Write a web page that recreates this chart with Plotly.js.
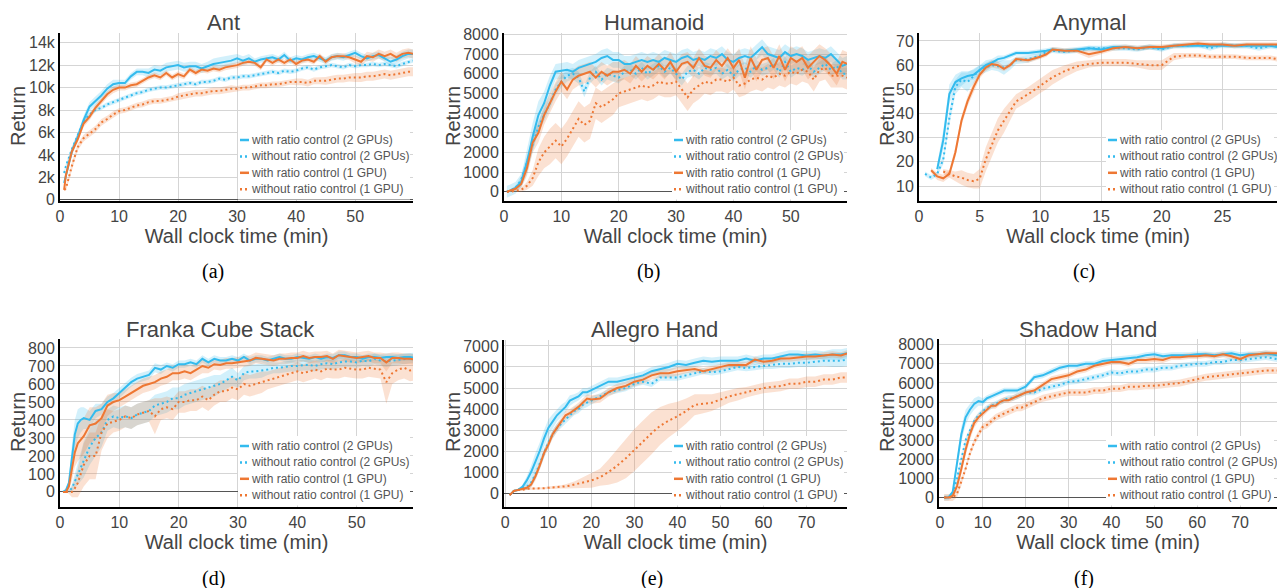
<!DOCTYPE html>
<html>
<head>
<meta charset="utf-8">
<script src="https://cdn.plot.ly/plotly-3.0.1.min.js"></script>
<style>html,body{margin:0;padding:0;background:#fff}#chart{width:1277px;height:588px}</style>
</head>
<body>
<div id="chart"></div>
<script>
// ---------------- DATA ----------------
const seriesNames = ['with ratio control (2 GPUs)', 'without ratio control (2 GPUs)', 'with ratio control (1 GPU)', 'without ratio control (1 GPU)'];
const panelTitles = ['Ant', 'Humanoid', 'Anymal', 'Franka Cube Stack', 'Allegro Hand', 'Shadow Hand'];
const panelCaptions = ['(a)', '(b)', '(c)', '(d)', '(e)', '(f)'];
const xAxisLabel = 'Wall clock time (min)';
const yAxisLabel = 'Return';
const antTickVals = [0, 2000, 4000, 6000, 8000, 10000, 12000, 14000];
const antTickText = ['0', '2k', '4k', '6k', '8k', '10k', '12k', '14k'];

// (a) Ant
const antTime = [0.7,1,2,3,4,5,6,7,8,9,10,11,12,13,14,15,16,17,18,19,20,21,22,23,24,25,26,27,28,29,30,31,32,33,34,35,36,37,38,39,40,41,42,43,44,45,46,47,48,49,50,51,52,53,54,55,56,57,58,59,59.8];
const antWithRatio2 = [1500,2200,4300,5600,7100,8300,8800,9300,9900,10300,
  10400,10400,11000,11400,11400,11300,11600,11500,11800,11900,
  12000,11800,11900,11900,11700,11900,12100,12200,12300,12400,
  12600,12400,12600,12300,12500,12600,12700,12500,12900,12400,
  12600,12500,12700,12800,12600,12400,12700,12800,12700,12900,
  13100,12800,12600,12800,12900,12600,12300,12500,12800,13000,13000];
const antWithoutRatio2 = [2400,3000,4500,5800,7000,7600,8000,8200,8500,8700,
  8900,9100,9300,9500,9600,9800,9900,10000,10000,10100,
  10200,10300,10400,10300,10500,10500,10600,10800,10700,10900,
  10900,11000,11000,11100,11200,11300,11400,11300,11500,11400,
  11500,11700,11800,11600,11800,11900,12000,11900,11800,12000,
  11900,12000,12000,12100,12000,12100,12000,11900,12100,12300,12400];
const antWithRatio1 = [900,2200,4300,5400,6800,7400,8200,8800,9400,9800,
  10000,10000,10200,10300,10600,10900,11100,10900,11300,10900,
  11200,11000,11600,11300,11600,11500,11700,11600,11800,11900,
  12000,12200,12300,12200,11800,12500,12200,12500,12200,12500,
  12100,12400,12500,12300,12800,12300,12700,12800,12800,12700,
  12500,12300,12800,12700,13000,12800,13000,12700,13000,13100,13000];
const antWithoutRatio1 = [900,1000,3000,4700,5500,5900,6300,6900,7200,7600,
  7900,8000,8200,8400,8500,8700,8800,8800,8900,9000,
  9200,9300,9400,9500,9500,9600,9700,9700,9800,9900,
  9900,10000,10000,10100,10200,10200,10300,10300,10400,10500,
  10500,10500,10400,10600,10600,10600,10700,10800,10800,10900,
  10900,10900,11000,11000,11100,11200,11100,11200,11300,11400,11400];
const antWithRatio2Sd = [200,300,400,400,400,400,400,400,400,400,
  300,300,300,300,300,400,400,400,400,400,
  400,400,400,400,400,400,500,500,500,500,
  400,400,400,300,300,300,300,300,300,300,
  300,300,300,300,300,300,300,300,300,300,
  300,300,300,300,300,300,400,400,400,400,400];
const antWithoutRatio2Sd = 200;
const antWithRatio1Sd = [200,300,300,300,300,300,300,300,300,300,
  250,250,250,250,250,250,250,250,250,250,
  250,250,250,250,250,250,250,250,250,250,
  250,250,250,250,250,250,250,250,250,250,
  250,250,250,250,250,250,250,250,250,250,
  350,350,400,400,400,400,400,400,400,400,400];
const antWithoutRatio1Sd = [100,200,300,300,300,300,300,300,300,300,
  250,250,250,250,250,250,250,250,250,250,
  300,300,300,300,300,300,300,300,300,300,
  250,250,250,250,250,250,250,250,250,250,
  300,300,300,300,300,350,350,350,350,350,
  400,400,400,400,400,400,400,400,400,400,400];

// (b) Humanoid
const humTime = [0.5,1,2,3,4,5,6,7,8,9,10,11,12,13,14,15,16,17,18,19,20,21,22,23,24,25,26,27,28,29,30,31,32,33,34,35,36,37,38,39,40,41,42,43,44,45,46,47,48,49,50,51,52,53,54,55,56,57,58,59,59.8];
const humWithRatio2 = [0,50,200,500,1500,2800,3900,4500,5400,6100,
  6150,6200,6100,6300,6400,6500,6600,6800,6900,6700,
  6700,6500,6500,6600,6700,6600,6700,6600,6800,6700,
  6600,6800,6900,6700,6800,6700,6900,6800,7000,6700,
  6600,6800,6900,6800,7100,7350,7000,6900,6800,7100,
  6900,7000,6900,6700,6800,6900,6800,7000,6700,6400,6500];
const humWithoutRatio2 = [0,50,200,600,1500,2400,3300,3900,4500,5200,
  5600,5900,6000,5800,5100,5800,6100,5700,6000,5900,
  5800,6100,6200,6000,6300,6000,6200,6400,6100,6300,
  6000,5700,6100,6200,6000,6300,6200,6300,6000,6200,
  5900,6200,6300,6100,6400,6200,6300,6500,6100,6600,
  6100,6300,6200,6400,6100,6300,6500,6200,6400,6000,6000];
const humWithRatio1 = [0,50,150,400,1200,2500,3000,3900,4500,5100,
  5600,5200,5700,5900,6000,6100,5800,6100,5900,6100,
  6100,6200,6000,6400,6100,6400,6200,6500,6200,6600,
  6100,6500,6600,6300,6800,6400,6300,6700,6400,6800,
  6300,6700,5800,6800,6200,6700,6800,6300,6900,6200,
  6800,6600,6800,6300,6600,6900,6700,6400,6000,6600,6500];
const humWithoutRatio1 = [0,0,50,100,300,700,1500,2000,2300,2600,
  2300,2700,3200,3700,3400,3600,4500,4300,4500,4700,
  5000,5100,5200,5300,5400,5300,5400,5600,5500,5500,
  5600,5200,4800,5200,5400,5600,5500,5700,5700,5600,
  5800,5400,5500,5700,5800,5700,5900,5800,6000,5900,
  6100,6000,6200,6100,5700,6200,6300,5900,5900,5900,5800];
const humWithRatio2Sd = [0,50,100,300,600,700,700,600,500,400,
  400,400,400,400,400,400,400,400,400,400,
  400,400,400,400,400,400,400,400,400,400,
  400,400,400,400,400,400,400,400,400,400,
  400,400,400,400,400,400,400,400,400,400,
  400,400,400,400,400,400,400,400,400,400,400];
const humWithoutRatio2Sd = 300;
const humWithRatio1Sd = [0,50,100,200,400,500,500,500,500,500,
  500,500,500,500,500,500,500,500,500,500,
  500,500,500,500,500,500,500,500,500,500,
  500,500,500,500,500,500,500,500,500,500,
  600,600,600,600,600,600,600,600,600,600,
  600,600,600,600,600,600,600,600,600,600,600];
const humWithoutRatio1Sd = [0,0,50,100,200,400,700,800,900,900,
  900,900,900,900,900,900,800,800,800,800,
  700,700,700,700,700,700,700,700,700,700,
  700,700,700,700,700,600,600,600,600,600,
  600,600,600,600,600,600,600,600,600,600,
  600,600,600,600,600,600,600,600,600,600,600];

// (c) Anymal
const anyTime = [0.5,1,1.5,2,2.5,3,3.5,4,4.5,5,5.5,6,6.5,7,7.5,8,9,10,10.5,11,12,13,14,15,16,17,18,19,20,21,22,23,24,25,26,27,28,29,29.5];
const anyWithRatio2 = [null,null,17,29,48,53,54.5,55.5,56,58,
  60,61,62.5,63,64,65,65,65.5,66,66.5,
  66,66.5,67,66.5,67.5,67.5,67,67.5,67,68,
  68,68,68,68,68,68,68,68,67.5];
const anyWithoutRatio2 = [15,13.5,15,21,38,51,54,53,55.5,58,
  59,60,59.5,59,60,62,62.5,64,65.5,66,
  65.5,66,67,67,67,67,66.5,67.5,66.5,68,
  68,68.5,67,68.5,68,68,67,68,68];
const anyWithRatio1 = [null,16.5,14,13.2,15,24,37,45,51,56,
  59,60.5,60,58.5,60,62.5,62,63.5,64.5,66.5,
  66,66,64.5,65.5,67,67.5,67,67.5,67.5,68,
  68.5,69,68.5,68.5,68,68.5,68.5,68.5,68.5];
const anyWithoutRatio1 = [null,null,null,16,15,14,13.5,12.5,12,13,
  21,27,33,37,41,45,48,51.5,53,55,
  57.5,59.5,60.5,61,61,61,60.5,60,60,63.5,
  64,64,63.5,63.5,63.5,63,63,63,62.5];
const anyWithRatio2Sd = [0,0,2,4,4,3,3,2,2,2,
  2,1.5,1.5,1,1,1,1,1,1,1,
  1,1,1,1,1,1,1,1,1,1,
  1,1,1,1,1,1,1,1,1];
const anyWithoutRatio2Sd = [1,1,1,2,3,3,3,4,3,2,
  2,2,2,3,2,1.5,1.5,1,1,1,
  1,1,1,1,1,1,1,1,1,1,
  1,1,1,1,1,1,1,1,1];
const anyWithRatio1Sd = [0,1,1.5,1.5,1.5,2,2,2,2,1.5,
  1.5,1.5,1.5,1,1,1,1,1,1,1,
  1,1,1.5,1,1,1,1,1,1,1,
  1,1,1,1,1,1,1,1,1];
const anyWithoutRatio1Sd = [0,0,0,1,1.5,2,3,3,3,4,
  5,5,5,5,4,3,3,3,3,3,
  2.5,2,1.5,1.5,1.5,1.5,1.5,2,2,1.5,
  1,1,1,1,1,1,1,1,1];

// (d) Franka Cube Stack
const frTime = [0.5,1,1.5,2,2.5,3,3.5,4,5,6,7,8,9,10,11,12,13,14,15,16,17,18,19,20,21,22,23,24,25,26,27,28,29,30,31,32,33,34,35,36,37,38,39,40,41,42,43,44,45,46,47,48,49,50,51,52,53,54,55,56,57,58,59,59.8];
const frWithRatio2 = [0,10,50,200,320,380,400,410,
  400,450,460,500,520,550,580,610,630,640,
  650,690,680,700,690,710,710,720,710,740,
  720,740,730,730,740,730,750,730,740,740,
  730,740,750,740,740,750,745,740,750,740,
  750,745,760,760,750,750,740,750,750,745,
  750,750,745,750,750,745];
const frWithoutRatio2 = [null,0,5,20,60,100,140,180,
  250,300,330,400,420,410,420,410,430,440,
  450,480,490,500,520,520,540,550,560,570,
  580,590,600,620,640,620,660,670,670,675,
  680,690,690,695,700,700,705,705,700,710,
  715,710,720,725,725,720,730,725,740,730,
  725,730,735,740,745,745];
const frWithRatio1 = [0,0,30,120,220,270,290,310,
  370,380,410,480,500,510,530,550,570,590,
  600,610,630,640,660,660,670,660,680,700,
  690,710,705,715,715,720,725,730,745,740,
  735,730,740,740,745,745,755,745,750,750,
  755,740,760,755,750,745,750,755,745,745,
  720,745,745,740,740,735];
const frWithoutRatio1 = [null,0,0,0,20,50,100,150,
  200,200,330,380,390,400,420,410,430,440,
  450,420,460,470,460,500,500,510,510,530,
  510,540,560,560,580,570,600,590,600,610,
  620,630,640,650,660,670,660,670,680,670,
  685,680,680,690,685,680,680,690,685,680,
  610,660,680,690,675,680];
const frWithRatio2Sd = [0,5,20,60,80,80,70,60,
  50,40,30,30,30,30,30,25,25,25,
  25,25,25,20,20,20,20,20,20,20,
  20,20,20,20,20,20,20,20,20,20,
  20,20,20,20,20,20,20,20,20,20,
  20,20,20,20,20,20,20,20,20,20,
  20,20,20,20,20,20];
const frWithoutRatio2Sd = [0,0,10,20,40,60,80,100,
  100,100,80,60,60,60,60,60,60,60,
  60,60,60,60,60,60,60,60,60,60,
  60,60,50,50,50,40,40,40,40,40,
  30,30,30,30,30,30,30,30,30,30,
  30,30,30,30,30,30,30,30,30,30,
  30,30,30,30,30,30];
const frWithRatio1Sd = [0,0,20,60,80,100,100,100,
  100,90,80,60,50,40,40,40,40,40,
  40,40,40,40,40,40,40,40,40,40,
  30,30,30,30,30,30,30,30,30,30,
  30,30,30,30,30,30,30,30,30,30,
  30,30,30,30,30,30,30,30,30,30,
  50,30,30,30,30,30];
const frWithoutRatio1Sd = [0,0,10,30,50,80,100,120,
  130,130,100,80,60,60,60,60,60,60,
  60,100,60,60,60,60,60,60,60,60,
  60,60,60,60,60,60,60,60,60,60,
  50,50,50,50,50,50,50,50,50,50,
  50,50,50,50,50,50,50,50,50,50,
  120,60,60,60,60,60];

// (e) Allegro Hand
const alTime = [1,2,3,4,5,6,7,8,9,10,11,12,13,14,15,16,17,18,19,20,22,24,26,28,30,32,34,36,38,40,42,44,46,48,50,52,54,56,58,60,62,64,66,68,70,72,74,76,78,79.4];
const alWithRatio2 = [-100,100,150,300,600,1000,1500,2000,2600,3100,
  3400,3700,3900,4100,4400,4500,4600,4800,4800,4900,
  5100,5300,5300,5400,5500,5600,5800,5900,6000,6150,
  6100,6200,6300,6250,6300,6300,6300,6400,6300,6400,
  6400,6500,6600,6600,6550,6600,6550,6600,6600,6650];
const alWithoutRatio2 = [-100,100,150,250,300,500,900,1400,1900,2400,
  2800,3100,3300,3500,3700,3900,4000,4200,4300,4400,
  4600,4800,4900,5000,5200,5300,5200,5500,5500,5500,
  5600,5700,5800,5750,5800,5900,6000,5950,6000,6050,
  6100,6150,6150,6200,6200,6250,6300,6300,6300,6350];
const alWithRatio1 = [-100,100,150,200,250,400,800,1300,1900,2300,
  2800,3100,3400,3700,3800,3950,4100,4300,4500,4450,
  4500,4800,5000,5100,5300,5400,5600,5700,5700,5800,
  5850,5900,5800,5900,6000,6100,6100,6100,6350,6250,
  6300,6400,6400,6450,6500,6500,6550,6600,6550,6650];
const alWithoutRatio1 = [-100,100,150,150,200,200,200,220,230,250,
  260,270,290,320,350,400,450,500,550,600,
  750,1000,1300,1650,2050,2450,2850,3200,3450,3650,
  3900,4200,4250,4300,4450,4600,4700,4800,4900,5000,
  5050,5100,5200,5200,5300,5300,5400,5400,5500,5500];
const alWithRatio2Sd = [0,50,50,100,200,300,400,400,400,400,
  350,300,300,250,250,200,200,200,200,200,
  200,200,200,200,200,200,200,200,200,200,
  200,200,200,200,200,200,200,200,200,200,
  200,200,200,200,200,200,200,250,250,250];
const alWithoutRatio2Sd = [0,50,50,100,150,200,250,250,250,200,
  200,200,200,200,200,200,200,200,200,200,
  150,150,150,150,150,150,150,150,150,150,
  150,150,150,150,150,150,150,150,150,150,
  200,200,200,200,200,250,250,300,300,300];
const alWithRatio1Sd = [0,50,50,50,100,150,200,200,200,200,
  200,200,200,200,200,200,200,200,200,200,
  200,200,200,200,200,200,200,200,200,200,
  150,150,150,150,150,150,150,150,150,150,
  150,150,150,150,150,150,150,150,150,150];
const alWithoutRatio1Sd = [0,50,50,50,50,50,50,50,50,60,
  60,70,80,100,120,150,200,250,300,350,
  400,600,800,950,1000,1000,1000,900,800,700,
  600,500,450,400,350,300,300,250,250,250,
  250,250,250,250,250,250,250,250,250,250];

// (f) Shadow Hand
const shTime = [1,2,3,4,5,6,7,8,9,10,11,12,13,14,15,16,17,18,19,20,22,24,26,28,30,32,34,36,38,40,42,44,46,48,50,52,54,56,58,60,62,64,66,68,70,72,74,76,78.6];
const shWithRatio2 = [0,0,300,1800,3300,4200,4600,4900,5050,5000,
  5200,5300,5400,5500,5600,5600,5600,5600,5700,5800,
  6300,6400,6600,6800,6900,6900,7000,7000,7150,7200,
  7250,7300,7350,7450,7500,7400,7450,7450,7450,7500,
  7500,7450,7500,7550,7450,7500,7500,7550,7450];
const shWithoutRatio2 = [0,0,200,1000,2000,3000,3500,4000,4300,4500,
  4700,4800,4900,5000,5100,5200,5200,5300,5400,5500,
  5500,5700,5800,5900,6050,6100,6200,6300,6400,6550,
  6500,6600,6600,6700,6700,6800,6800,6900,6950,7000,
  7000,7100,7100,7200,7200,7250,7300,7350,7250];
const shWithRatio1 = [0,0,100,600,1500,2500,3300,3900,4200,4400,
  4600,4800,4800,5000,5100,5100,5200,5300,5400,5500,
  5600,5900,6200,6300,6400,6600,6700,6900,7000,7100,
  7100,7000,7200,7200,7250,7200,7350,7350,7400,7400,
  7450,7400,7500,7400,7250,7450,7500,7550,7550];
const shWithoutRatio1 = [0,0,0,200,800,1500,2300,2900,3300,3700,
  3800,4000,4200,4300,4400,4500,4600,4700,4700,4800,
  5000,5200,5300,5400,5500,5500,5500,5600,5600,5700,
  5700,5800,5800,5850,5850,5900,5950,6000,6100,6200,
  6300,6350,6400,6450,6500,6550,6600,6650,6650];
const shWithRatio2Sd = [0,0,100,300,400,400,300,300,250,200,
  150,150,150,150,150,150,150,150,150,150,
  150,150,150,150,150,150,150,150,150,150,
  150,150,150,150,150,150,150,150,150,150,
  150,150,150,150,150,150,150,150,150];
const shWithoutRatio2Sd = 150;
const shWithRatio1Sd = [0,0,100,200,300,300,300,250,200,200,
  150,150,150,150,150,150,150,150,150,150,
  150,150,150,150,150,150,150,150,150,150,
  150,150,150,150,150,150,150,150,150,150,
  150,150,150,150,150,150,150,150,150];
const shWithoutRatio1Sd = 180;

// ---------------- LAYOUT / STYLE ----------------
const W = 1277, H = 588;
const FONT = 'Liberation Sans, Arial, sans-serif';
const BLUE = '#33BBEE', ORANGE = '#EE7733';
const lineStyles = [
  {color: BLUE, dash: 'solid', fill: 'rgba(51,187,238,0.22)'},
  {color: BLUE, dash: '2px,3px', fill: 'rgba(51,187,238,0.22)'},
  {color: ORANGE, dash: 'solid', fill: 'rgba(238,119,51,0.22)'},
  {color: ORANGE, dash: '2px,3px', fill: 'rgba(238,119,51,0.22)'}
];

const panels = [
  {time: antTime, ys: [antWithRatio2, antWithoutRatio2, antWithRatio1, antWithoutRatio1],
   sds: [antWithRatio2Sd, antWithoutRatio2Sd, antWithRatio1Sd, antWithoutRatio1Sd],
   xRange: [0, 59.8], yRange: [-100, 14860], xDtick: 10, yTickVals: antTickVals, yTickText: antTickText,
   box: [60, 413, 33, 201], titleXY: [223, 23], capXY: [213, 271], yTitleXY: [18, 116], legX: 250},
  {time: humTime, ys: [humWithRatio2, humWithoutRatio2, humWithRatio1, humWithoutRatio1],
   sds: [humWithRatio2Sd, humWithoutRatio2Sd, humWithRatio1Sd, humWithoutRatio1Sd],
   xRange: [0, 59.8], yRange: [-470, 8070], xDtick: 10, yDtick: 1000,
   box: [504, 847, 33, 201], titleXY: [654, 23], capXY: [648, 271], yTitleXY: [453, 116], legX: 684},
  {time: anyTime, ys: [anyWithRatio2, anyWithoutRatio2, anyWithRatio1, anyWithoutRatio1],
   sds: [anyWithRatio2Sd, anyWithoutRatio2Sd, anyWithRatio1Sd, anyWithoutRatio1Sd],
   xRange: [0, 29.5], yRange: [3.8, 73.3], xDtick: 5, yDtick: 10,
   box: [919, 1277, 33, 201], titleXY: [1089, 23], capXY: [1084, 271], yTitleXY: [887, 116], legX: 1118},
  {time: frTime, ys: [frWithRatio2, frWithoutRatio2, frWithRatio1, frWithoutRatio1],
   sds: [frWithRatio2Sd, frWithoutRatio2Sd, frWithRatio1Sd, frWithoutRatio1Sd],
   xRange: [0, 59.5], yRange: [-84, 850], xDtick: 10, yDtick: 100,
   box: [60, 413, 339, 507], titleXY: [220, 329], capXY: [213, 578], yTitleXY: [18, 422], legX: 250},
  {time: alTime, ys: [alWithRatio2, alWithoutRatio2, alWithRatio1, alWithoutRatio1],
   sds: [alWithRatio2Sd, alWithoutRatio2Sd, alWithRatio1Sd, alWithoutRatio1Sd],
   xRange: [-0.3, 79.4], yRange: [-665, 7285], xDtick: 10, yDtick: 1000,
   box: [504, 847, 340, 507], titleXY: [654, 329], capXY: [652, 578], yTitleXY: [453, 422], legX: 684},
  {time: shTime, ys: [shWithRatio2, shWithoutRatio2, shWithRatio1, shWithoutRatio1],
   sds: [shWithRatio2Sd, shWithoutRatio2Sd, shWithRatio1Sd, shWithoutRatio1Sd],
   xRange: [-0.2, 78.6], yRange: [-494, 8300], xDtick: 10, yDtick: 1000,
   box: [939, 1277, 339, 507], titleXY: [1088, 329], capXY: [1084, 578], yTitleXY: [887, 422], legX: 1118}
];

const traces = [];
const layout = {
  width: W, height: H, margin: {l: 0, r: 0, t: 0, b: 0},
  paper_bgcolor: '#fff', plot_bgcolor: '#fff', showlegend: false,
  font: {family: FONT, color: '#444'},
  annotations: [], shapes: []
};
const px = v => v / W;
const py = v => 1 - v / H;

panels.forEach((p, i) => {
  const n = i === 0 ? '' : String(i + 1);
  const xa = 'x' + n, ya = 'y' + n;
  // bands
  p.ys.forEach((y, k) => {
    const sd = p.sds[k];
    const xs = [], lo = [], hi = [];
    p.time.forEach((t, j) => {
      if (y[j] === null) return;
      const s = Array.isArray(sd) ? sd[j] : sd;
      xs.push(t); lo.push(y[j] - s); hi.push(y[j] + s);
    });
    traces.push({
      x: xs.concat(xs.slice().reverse()), y: hi.concat(lo.slice().reverse()),
      xaxis: xa, yaxis: ya, type: 'scatter', mode: 'lines', fill: 'toself',
      fillcolor: lineStyles[k].fill, line: {width: 0}, hoverinfo: 'skip', showlegend: false
    });
  });
  // lines
  p.ys.forEach((y, k) => {
    traces.push({
      x: p.time, y: y, xaxis: xa, yaxis: ya, type: 'scatter', mode: 'lines', name: seriesNames[k],
      line: {color: lineStyles[k].color, width: 2, dash: lineStyles[k].dash}, connectgaps: false, showlegend: false
    });
  });
  const [x0, x1, y0, y1] = p.box;
  layout['xaxis' + n] = {
    domain: [px(x0), px(x1)], anchor: ya, range: p.xRange, tick0: 0, dtick: p.xDtick,
    showline: true, linecolor: '#000', linewidth: 2, showgrid: true, gridcolor: '#d5d5d5', gridwidth: 1,
    zeroline: false, ticks: '', tickfont: {family: FONT, size: 16, color: '#444'},
    title: {text: xAxisLabel, standoff: 4, font: {family: FONT, size: 20, color: '#444'}}, fixedrange: true
  };
  const yax = {
    domain: [py(y1), py(y0)], anchor: xa, range: p.yRange,
    showline: true, linecolor: '#000', linewidth: 2, showgrid: true, gridcolor: '#d5d5d5', gridwidth: 1,
    zeroline: true, zerolinecolor: '#555', zerolinewidth: 1, ticks: '',
    tickfont: {family: FONT, size: 16, color: '#444'}, fixedrange: true
  };
  if (p.yTickVals) { yax.tickmode = 'array'; yax.tickvals = p.yTickVals; yax.ticktext = p.yTickText; }
  else { yax.tick0 = 0; yax.dtick = p.yDtick; }
  layout['yaxis' + n] = yax;

  // panel title, y title, caption
  layout.annotations.push({xref: 'paper', yref: 'paper', x: px(p.titleXY[0]), y: py(p.titleXY[1]),
    xanchor: 'center', yanchor: 'middle', showarrow: false, text: panelTitles[i],
    font: {family: FONT, size: 22, color: '#444'}});
  layout.annotations.push({xref: 'paper', yref: 'paper', x: px(p.yTitleXY[0]), y: py(p.yTitleXY[1]),
    xanchor: 'center', yanchor: 'middle', showarrow: false, text: yAxisLabel, textangle: -90,
    font: {family: FONT, size: 20, color: '#444'}});
  layout.annotations.push({xref: 'paper', yref: 'paper', x: px(p.capXY[0]), y: py(p.capXY[1]),
    xanchor: 'center', yanchor: 'middle', showarrow: false, text: panelCaptions[i],
    font: {family: 'Liberation Serif, Times New Roman, serif', size: 20, color: '#000'}});

  // legend box
  const rowTop = y1 - 61;
  layout.shapes.push({type: 'rect', xref: 'paper', yref: 'paper', layer: 'above',
    x0: px(p.legX - 12), x1: px(x1 - 3), y0: py(y1 - 1.5), y1: py(rowTop - 10),
    fillcolor: '#fff', line: {width: 0}});
  seriesNames.forEach((name, k) => {
    const ry = rowTop + 16.4 * k;
    layout.shapes.push({type: 'line', xref: 'paper', yref: 'paper', layer: 'above',
      x0: px(p.legX - 10), x1: px(p.legX - 1), y0: py(ry), y1: py(ry),
      line: {color: lineStyles[k].color, width: 2.5, dash: lineStyles[k].dash}});
    layout.annotations.push({xref: 'paper', yref: 'paper', x: px(p.legX - 1), y: py(ry),
      xanchor: 'left', yanchor: 'middle', showarrow: false, text: name,
      font: {family: FONT, size: 12, color: '#555'}});
  });
});

Plotly.newPlot('chart', traces, layout, {displayModeBar: false, staticPlot: true});
</script>
</body>
</html>
